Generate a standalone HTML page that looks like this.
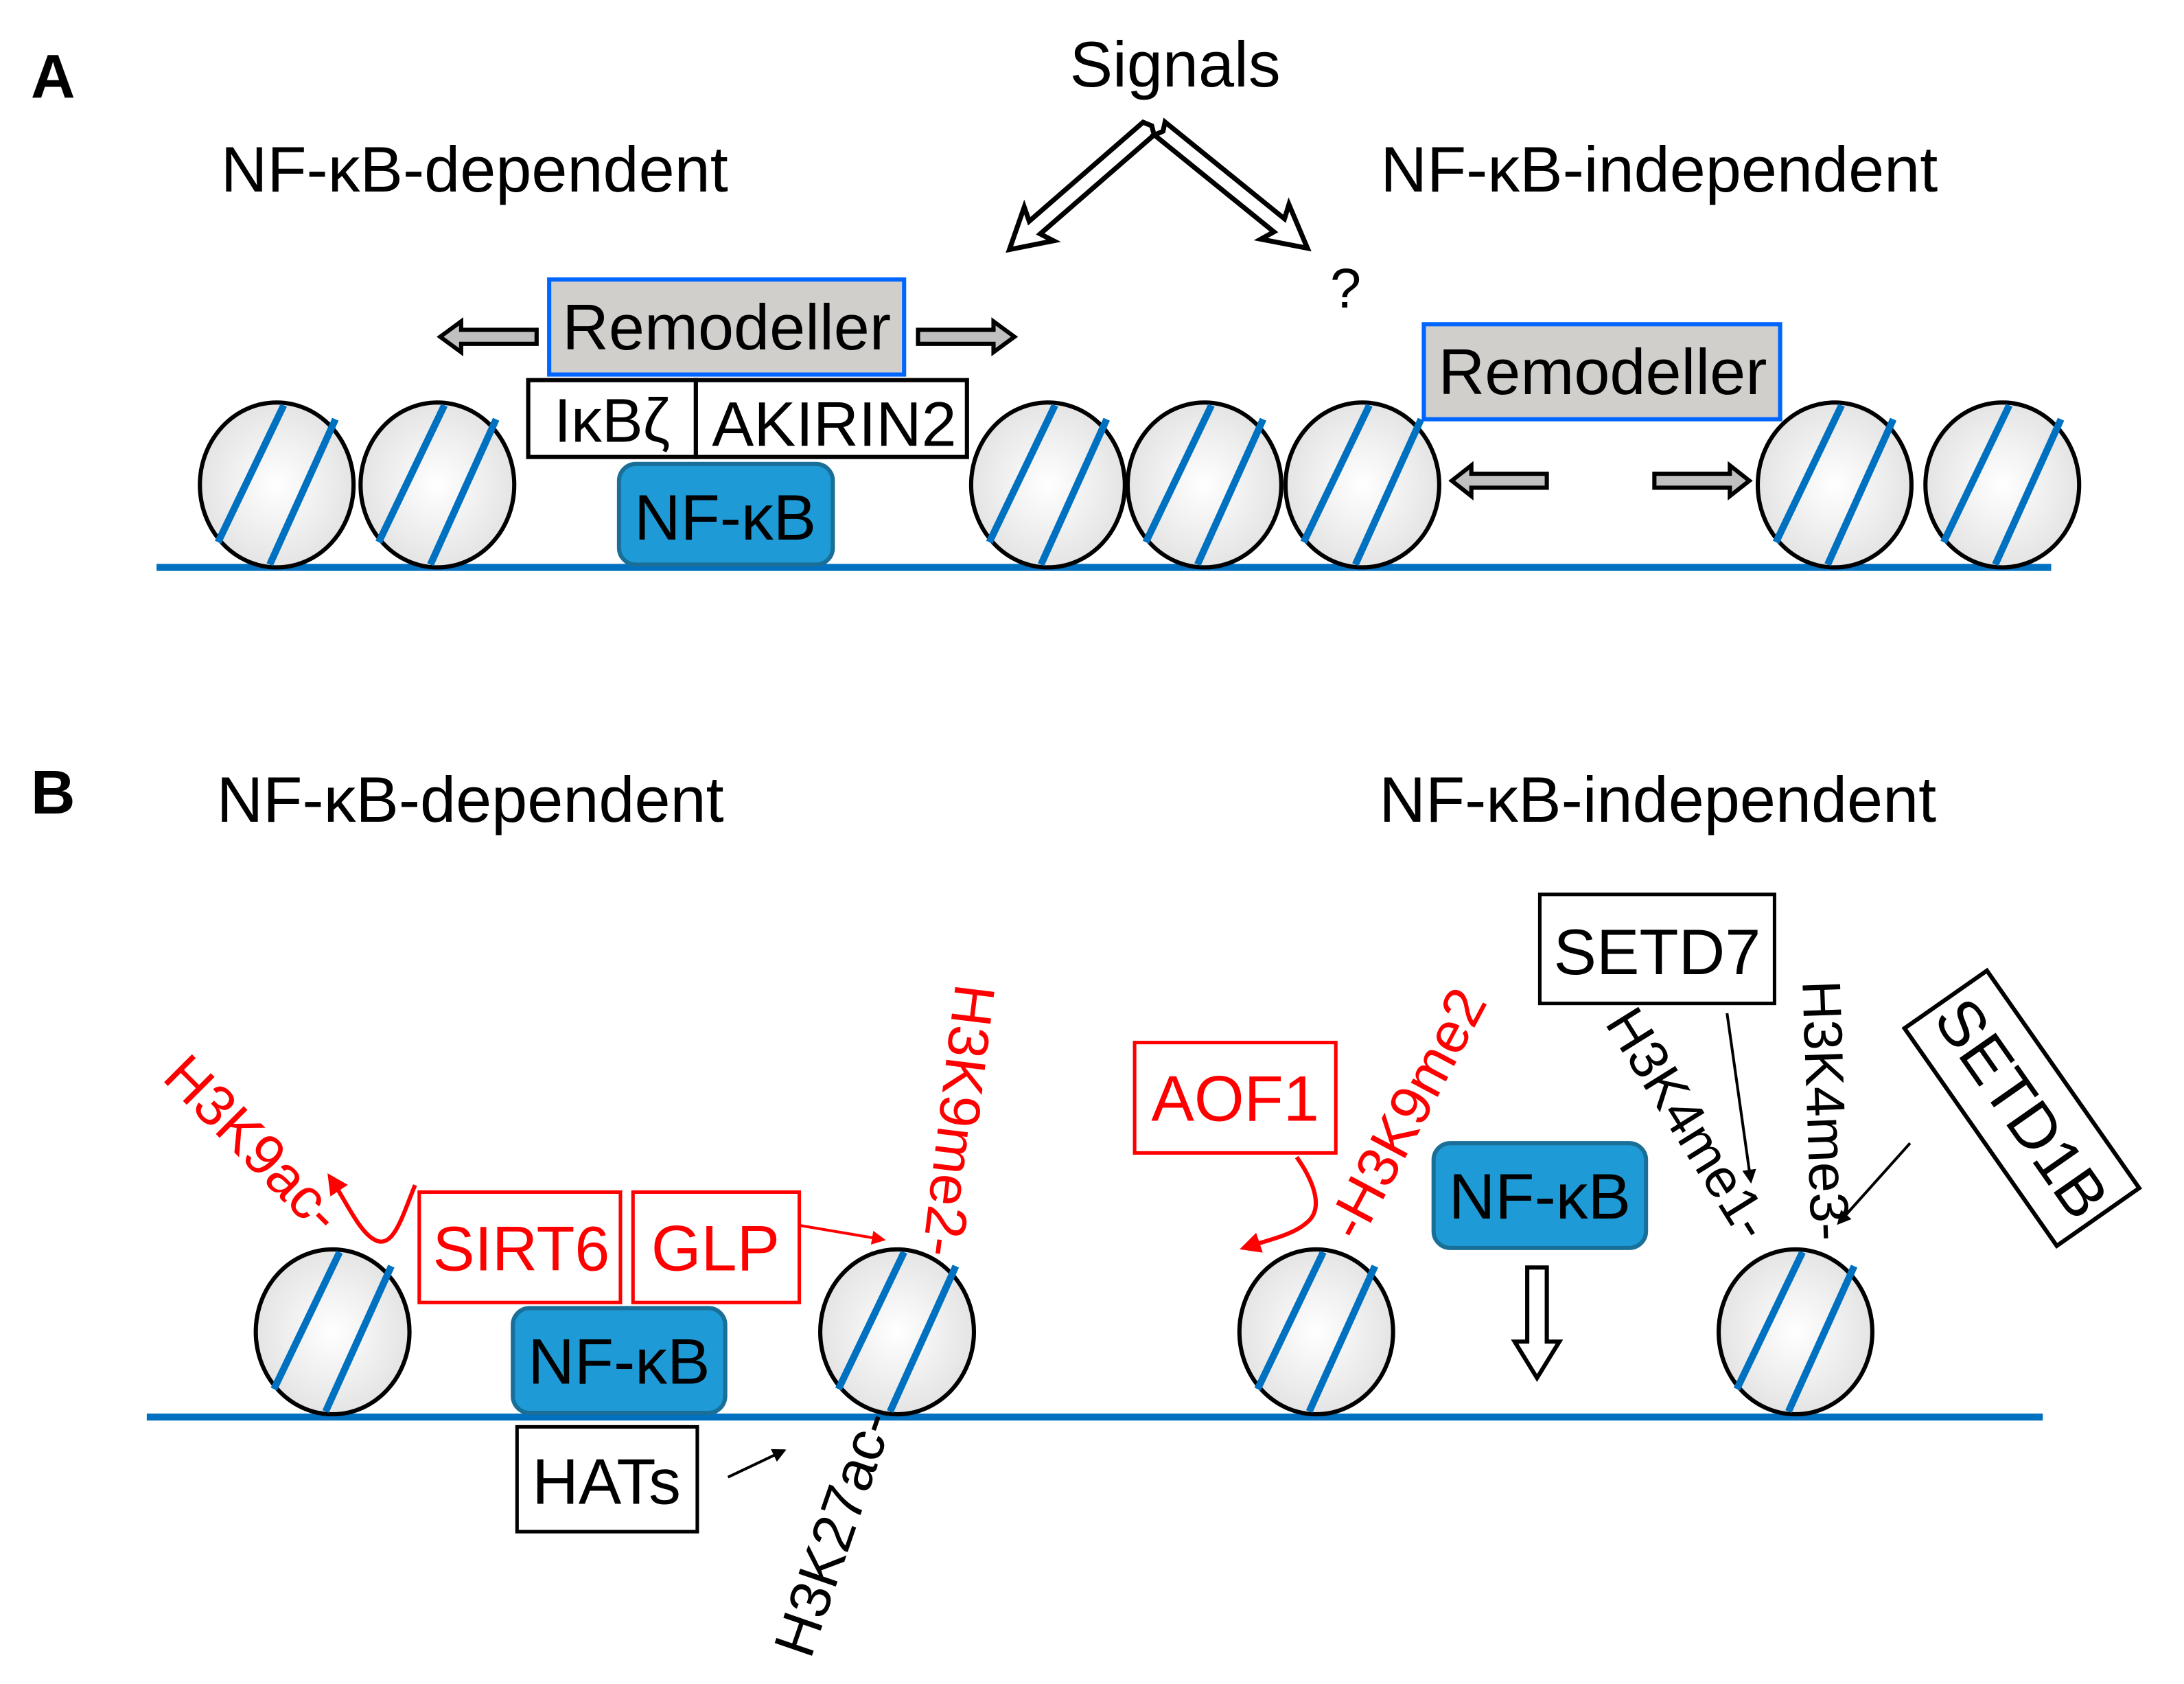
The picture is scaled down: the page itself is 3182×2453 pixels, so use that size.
<!DOCTYPE html>
<html><head><meta charset="utf-8"><style>
html,body{margin:0;padding:0;background:#fff}
svg{display:block}
text{font-family:"Liberation Sans",sans-serif}
</style></head><body>
<svg width="3182" height="2453" viewBox="0 0 1563 1205" xmlns="http://www.w3.org/2000/svg">
<defs>
<radialGradient id="g" cx="50%" cy="50%" r="50%"><stop offset="0" stop-color="#ffffff"/><stop offset="1" stop-color="#e4e4e4"/></radialGradient>
<symbol id="n" overflow="visible">
<ellipse cx="0" cy="0" rx="55" ry="59" fill="url(#g)" stroke="#000" stroke-width="3"/>
<line x1="-42" y1="41" x2="5" y2="-57" stroke="#0070c0" stroke-width="5"/>
<line x1="-5" y1="57" x2="42" y2="-47" stroke="#0070c0" stroke-width="5"/>
</symbol>
<marker id="ar2" markerWidth="5" markerHeight="5" refX="4" refY="2.5" orient="auto" viewBox="0 0 5 5"><path d="M0,0 L5,2.5 L0,5z" fill="red"/></marker>
<marker id="ab2" markerWidth="5" markerHeight="5" refX="4" refY="2.5" orient="auto" viewBox="0 0 5 5"><path d="M0,0 L5,2.5 L0,5z" fill="#000"/></marker>
</defs>

<!-- Panel A -->
<text x="22" y="70" font-size="44" font-weight="bold">A</text>
<text x="841" y="62" font-size="46" text-anchor="middle">Signals</text>
<text x="158" y="137" font-size="46">NF-κB-dependent</text>
<text x="988" y="137" font-size="46">NF-κB-independent</text>

<g transform="translate(822,92) rotate(139)"><polygon points="0,-6 108,-6 104,-16 132,0 104,16 108,6 0,6 -3,0" fill="#fff" stroke="#000" stroke-width="3.5"/></g>
<g transform="translate(830,92) rotate(39)"><polygon points="0,-6 110,-6 106,-16 136,0 106,16 110,6 0,6 3,0" fill="#fff" stroke="#000" stroke-width="3.5"/></g>
<text x="963" y="220" font-size="40" text-anchor="middle">?</text>

<line x1="112" y1="406" x2="1468" y2="406" stroke="#0070c0" stroke-width="5"/>
<use href="#n" x="198" y="347"/>
<use href="#n" x="313" y="347"/>
<use href="#n" x="750" y="347"/>
<use href="#n" x="862" y="347"/>
<use href="#n" x="975" y="347"/>
<use href="#n" x="1313" y="347"/>
<use href="#n" x="1433" y="347"/>

<rect x="393" y="200" width="254" height="68" fill="#d0cfcc" stroke="#0066ff" stroke-width="3"/>
<text x="520" y="250" font-size="46" text-anchor="middle">Remodeller</text>
<rect x="378" y="272" width="120" height="55" fill="#fff" stroke="#000" stroke-width="3"/>
<rect x="498" y="272" width="194" height="55" fill="#fff" stroke="#000" stroke-width="3"/>
<text x="438" y="316" font-size="44" text-anchor="middle">IκBζ</text>
<text x="597" y="319" font-size="45" text-anchor="middle">AKIRIN2</text>
<rect x="443" y="332" width="153" height="72" rx="12" fill="#1e9bd7" stroke="#1a6f99" stroke-width="3"/>
<text x="519" y="386" font-size="46" text-anchor="middle">NF-κB</text>

<rect x="1019" y="232" width="255" height="68" fill="#d0cfcc" stroke="#0066ff" stroke-width="3"/>
<text x="1147" y="282" font-size="46" text-anchor="middle">Remodeller</text>

<polygon points="384,236 330,236 330,230 315,241 330,252 330,246 384,246" fill="#c0c0c0" stroke="#000" stroke-width="3"/>
<polygon points="657,236 711,236 711,230 726,241 711,252 711,246 657,246" fill="#c0c0c0" stroke="#000" stroke-width="3"/>
<polygon points="1107,339 1053,339 1053,333 1039,344 1053,355 1053,349 1107,349" fill="#c0c0c0" stroke="#000" stroke-width="3"/>
<polygon points="1184,339 1238,339 1238,333 1252,344 1238,355 1238,349 1184,349" fill="#c0c0c0" stroke="#000" stroke-width="3"/>

<!-- Panel B -->
<text x="22" y="582" font-size="44" font-weight="bold">B</text>
<text x="155" y="588" font-size="46">NF-κB-dependent</text>
<text x="987" y="588" font-size="46">NF-κB-independent</text>

<line x1="105" y1="1014" x2="1462" y2="1014" stroke="#0070c0" stroke-width="5"/>
<use href="#n" x="238" y="953"/>
<use href="#n" x="642" y="953"/>
<use href="#n" x="942" y="953"/>
<use href="#n" x="1285" y="953"/>

<rect x="300" y="853" width="144" height="79" fill="#fff" stroke="red" stroke-width="2.5"/>
<text x="373" y="909" font-size="45" fill="red" text-anchor="middle">SIRT6</text>
<rect x="453" y="853" width="119" height="79" fill="#fff" stroke="red" stroke-width="2.5"/>
<text x="512" y="909" font-size="46" fill="red" text-anchor="middle">GLP</text>
<rect x="367" y="936" width="152" height="75" rx="12" fill="#1e9bd7" stroke="#1a6f99" stroke-width="3"/>
<text x="443" y="990" font-size="46" text-anchor="middle">NF-κB</text>
<rect x="370" y="1021" width="129" height="75" fill="#fff" stroke="#000" stroke-width="2.5"/>
<text x="434" y="1076" font-size="46" text-anchor="middle">HATs</text>

<rect x="812" y="746" width="144" height="79" fill="#fff" stroke="red" stroke-width="2.5"/>
<text x="884" y="802" font-size="46" fill="red" text-anchor="middle">AOF1</text>
<rect x="1026" y="818" width="152" height="75" rx="12" fill="#1e9bd7" stroke="#1a6f99" stroke-width="3"/>
<text x="1102" y="872" font-size="46" text-anchor="middle">NF-κB</text>
<rect x="1102" y="640" width="168" height="78" fill="#fff" stroke="#000" stroke-width="2.5"/>
<text x="1186" y="697" font-size="46" text-anchor="middle">SETD7</text>
<g transform="translate(1447,793) rotate(55)">
<rect x="-95" y="-36" width="190" height="72" fill="#fff" stroke="#000" stroke-width="3"/>
<text x="0" y="16" font-size="46" text-anchor="middle">SETD1B</text>
</g>

<text transform="translate(115,772) rotate(45)" font-size="41" fill="red">H3K9ac-</text>
<text transform="translate(684,703) rotate(97)" font-size="41" fill="red">H3K9me2-</text>
<text transform="translate(580,1188) rotate(-71)" font-size="41">H3K27ac-</text>
<text transform="translate(973,890) rotate(-62)" font-size="41" fill="red">-H3K9me2</text>
<text transform="translate(1148,732) rotate(58)" font-size="39">H3K4me1-</text>
<text transform="translate(1290,702) rotate(88)" font-size="39">H3K4me3-</text>

<path d="M297,848 C288,870 282,892 270,888 C258,884 248,860 236,842" fill="none" stroke="red" stroke-width="3" marker-end="url(#ar2)"/>
<line x1="573" y1="877" x2="632" y2="887" stroke="red" stroke-width="2" marker-end="url(#ar2)"/>
<path d="M928,828 C940,845 948,865 935,875 C925,884 905,888 890,893" fill="none" stroke="red" stroke-width="3" marker-end="url(#ar2)"/>
<line x1="521" y1="1057" x2="561" y2="1038" stroke="#000" stroke-width="2" marker-end="url(#ab2)"/>
<line x1="1236" y1="725" x2="1253" y2="845" stroke="#000" stroke-width="2" marker-end="url(#ab2)"/>
<line x1="1367" y1="818" x2="1316" y2="875" stroke="#000" stroke-width="2" marker-end="url(#ab2)"/>
<polygon points="1093,907 1107,907 1107,960 1116,960 1100,986 1084,960 1093,960" fill="#fff" stroke="#000" stroke-width="3"/>
</svg>
</body></html>
